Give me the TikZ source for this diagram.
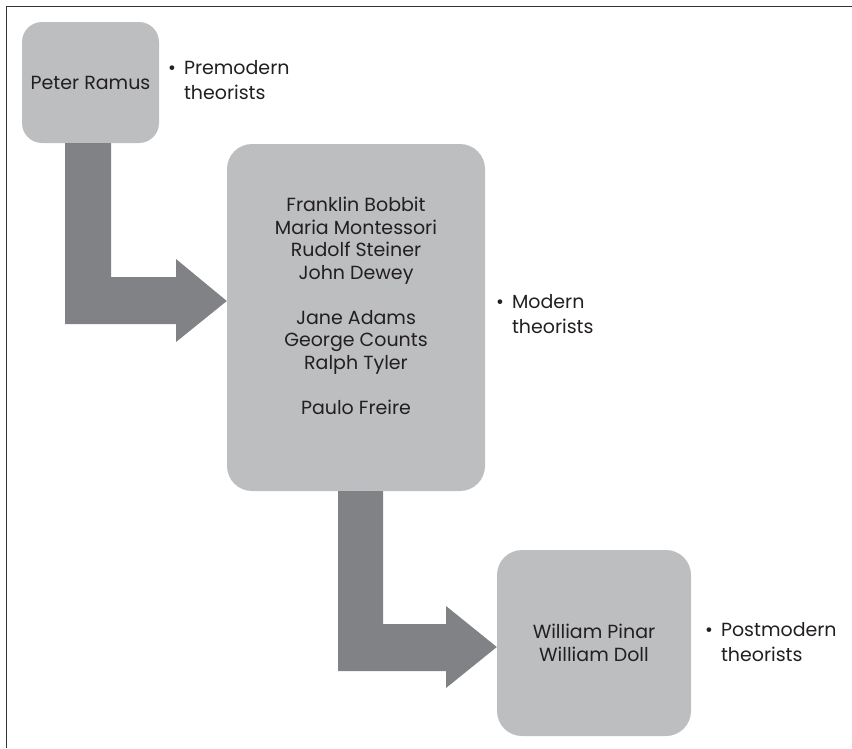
\documentclass[tikz,border=0pt]{standalone}
\usepackage{fontspec}
\setmainfont{Poppins}
\usetikzlibrary{calc}
\definecolor{boxgray}{HTML}{BCBEC0}
\definecolor{arrowgray}{HTML}{808285}
\definecolor{txt}{HTML}{231F20}
\definecolor{frame}{HTML}{333333}
\tikzset{
  box/.style={fill=boxgray, rounded corners=20pt, inner sep=0pt, text=txt,
              align=center, font=\fontsize{19}{22.5}\selectfont},
  lbl/.style={anchor=west, align=left, text=txt, inner sep=0pt,
              font=\fontsize{19}{25}\selectfont},
  names/.style={align=center, text=txt, inner sep=0pt,
              font=\fontsize{19}{22.5}\selectfont},
  blockarrow/.style={fill=arrowgray},
}
\newcommand{\bl}[1]{\textbullet\hspace{8pt}#1}
\newcommand{\ind}{\hphantom{\textbullet\hspace{8pt}}}
\begin{document}
\begin{tikzpicture}[x=1pt,y=-1pt]
\useasboundingbox (0,0) rectangle (852,748);
% frame
\draw[frame, line width=1.2pt] (6.5,748) -- (6.5,6.5) -- (852,6.5);
% boxes
\node[box, minimum width=137pt, minimum height=121pt] (b1) at (90.5,82.5) {Peter Ramus};
\node[box, rounded corners=25pt, minimum width=258pt, minimum height=347pt] (b2) at (356,317.5) {};
\node[names] (n2) at (356,306) {Franklin Bobbit\\Maria Montessori\\Rudolf Steiner\\John Dewey\\[22.5pt]Jane Adams\\George Counts\\Ralph Tyler\\[22.5pt]Paulo Freire};
\node[box, rounded corners=25pt, minimum width=194pt, minimum height=186pt] (b3) at (594,643) {William Pinar\\William Doll};
% labels
\node[lbl] (l1) at (168,80.5) {\bl{Premodern}\\\ind theorists};
\node[lbl] (l2) at (496,314) {\bl{Modern}\\\ind theorists};
\node[lbl] (l3) at (705,642.5) {\bl{Postmodern}\\\ind theorists};
% block arrows
\fill[blockarrow] (65,0 |- b1.south) -- (111,0 |- b1.south) -- (111,277) -- (176,277) -- (176,259)
  -- (b2.west |- 0,301) -- (176,342) -- (176,324) -- (65,324) -- cycle;
\fill[blockarrow] (338,0 |- b2.south) -- (383,0 |- b2.south) -- (383,624) -- (446,624) -- (446,606)
  -- (b3.west |- 0,647) -- (446,688) -- (446,671) -- (338,671) -- cycle;
\end{tikzpicture}
\end{document}
